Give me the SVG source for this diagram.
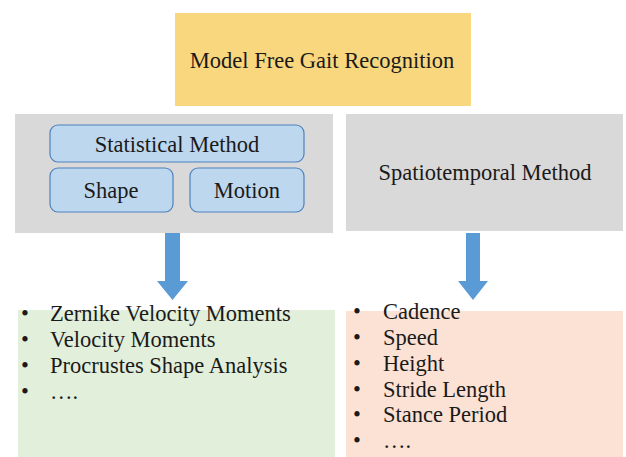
<svg xmlns="http://www.w3.org/2000/svg" width="626" height="457" viewBox="0 0 626 457">
<style>
text{font-family:'Liberation Serif','Times New Roman',serif;fill:#1a1a1a;font-size:22.5px;}
.c{text-anchor:middle;}
.blue{fill:#BDD7EE;stroke:#4F81BD;stroke-width:1.2;}
.arrow{fill:#5B9BD5;}
</style>
<rect width="626" height="457" fill="#ffffff"/>
<g id="root">
<rect x="175" y="13" width="296" height="93" fill="#F9D77F"/>
<text class="c" x="322" y="68">Model Free Gait Recognition</text>
</g>
<g id="statistical">
<rect x="15" y="114" width="318" height="119" fill="#D9D9D9"/>
<rect class="blue" x="50" y="125" width="254" height="37" rx="8"/>
<text class="c" x="177" y="152">Statistical Method</text>
<g id="shape">
<rect class="blue" x="50" y="168" width="123" height="44" rx="8"/>
<text class="c" x="111" y="198">Shape</text>
</g>
<g id="motion">
<rect class="blue" x="190" y="168" width="114" height="44" rx="8"/>
<text class="c" x="247" y="198">Motion</text>
</g>
</g>
<g id="spatiotemporal">
<rect x="346" y="114" width="277" height="117" fill="#D9D9D9"/>
<text class="c" x="485" y="180">Spatiotemporal Method</text>
</g>
<g id="connectors">
<polygon class="arrow" points="165,233 180,233 180,281 188,281 172.5,300 157,281 165,281"/>
<polygon class="arrow" points="466,233 480,233 480,281 488,281 473,300 458,281 466,281"/>
</g>
<g id="stat-list">
<rect x="18" y="310" width="317" height="147" fill="#E2EFDA"/>
<text x="21" y="321">•</text><text x="50" y="321">Zernike Velocity Moments</text>
<text x="21" y="347">•</text><text x="50" y="347">Velocity Moments</text>
<text x="21" y="373">•</text><text x="50" y="373">Procrustes Shape Analysis</text>
<text x="21" y="399">•</text><text x="50" y="399">….</text>
</g>
<g id="spatio-list">
<rect x="346" y="311" width="277" height="146" fill="#FBE2D5"/>
<text x="353" y="319">•</text><text x="383" y="319">Cadence</text>
<text x="353" y="345">•</text><text x="383" y="345">Speed</text>
<text x="353" y="371">•</text><text x="383" y="371">Height</text>
<text x="353" y="397">•</text><text x="383" y="397">Stride Length</text>
<text x="353" y="422">•</text><text x="383" y="422">Stance Period</text>
<text x="353" y="448">•</text><text x="383" y="448">….</text>
</g>
</svg>
